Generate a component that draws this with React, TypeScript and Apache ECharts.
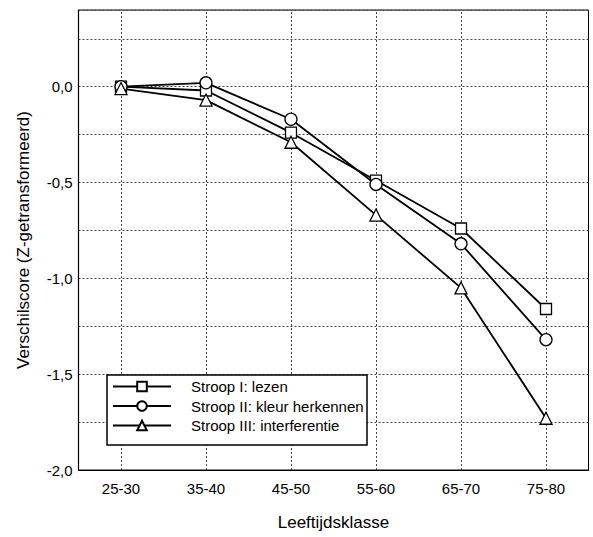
import React, { useEffect, useRef } from "react";
import * as echarts from "echarts";

const categories = ["25-30", "35-40", "45-50", "55-60", "65-70", "75-80"];
const stroopI = [0.0, -0.02, -0.24, -0.49, -0.74, -1.16];
const stroopII = [0.0, 0.02, -0.17, -0.51, -0.82, -1.32];
const stroopIII = [-0.01, -0.07, -0.29, -0.67, -1.05, -1.73];
const seriesNames = ["Stroop I: lezen", "Stroop II: kleur herkennen", "Stroop III: interferentie"];
const yName = "Verschilscore (Z-getransformeerd)";
const xName = "Leeftijdsklasse";

const FONT = "'Liberation Sans', Arial, sans-serif";

export default function App() {
  const ref = useRef<HTMLDivElement>(null);
  useEffect(() => {
    document.body.style.margin = "0";
    const chart = echarts.init(ref.current!, null, { renderer: "svg" });
    const mk = (name: string, data: number[], symbol: string, size: number) => ({
      name,
      type: "line",
      data,
      symbol,
      symbolSize: size,
      showAllSymbol: true,
      z: 5,
      lineStyle: { color: "#000", width: 1.8 },
      itemStyle: { color: "#fff", borderColor: "#000", borderWidth: 1.3 },
    });
    chart.setOption({
      animation: false,
      backgroundColor: "#fff",
      grid: {
        left: 78.5,
        right: 4.5,
        top: 10,
        bottom: 67,
        show: true,
        borderColor: "#000",
        borderWidth: 1,
      },
      xAxis: {
        type: "category",
        data: categories,
        boundaryGap: true,
        name: xName,
        nameLocation: "middle",
        nameGap: 44,
        nameTextStyle: { fontFamily: FONT, fontSize: 17, color: "#000" },
        axisLine: { onZero: false, lineStyle: { color: "#000", width: 1.2 } },
        axisTick: {
          show: true,
          alignWithLabel: true,
          inside: true,
          length: 460,
          lineStyle: { color: "#444", type: [2, 2], width: 1 },
        },
        axisLabel: { fontFamily: FONT, fontSize: 15, color: "#000", margin: 11 },
        splitLine: { show: false },
      },
      yAxis: {
        type: "value",
        min: -2,
        max: 0.4,
        interval: 0.25,
        name: yName,
        nameLocation: "middle",
        nameGap: 47,
        nameTextStyle: { fontFamily: FONT, fontSize: 17, color: "#000" },
        axisLine: { show: true, onZero: false, lineStyle: { color: "#000", width: 1.2 } },
        axisTick: { show: false },
        axisLabel: {
          fontFamily: FONT,
          fontSize: 15,
          color: "#000",
          margin: 6,
          showMaxLabel: false,
          formatter: (v: number) => {
            const d = v * 2;
            if (Math.abs(d - Math.round(d)) > 1e-6 || v > 0.01) return "";
            return v.toFixed(1).replace(".", ",");
          },
        },
        splitLine: { show: true, lineStyle: { color: "#444", type: [2, 2], width: 1 } },
      },
      legend: {
        orient: "vertical",
        left: 112,
        top: 379,
        padding: 0,
        itemWidth: 58,
        itemHeight: 12,
        itemGap: 4.5,
        z: 20,
        data: seriesNames,
        textStyle: { fontFamily: FONT, fontSize: 15, color: "#000", padding: [0, 0, 0, 15], lineHeight: 15 },
      },
      graphic: [
        {
          type: "rect",
          z: 10,
          shape: { x: 107, y: 375, width: 260, height: 70 },
          style: { fill: "#fff", stroke: "#000", lineWidth: 1.5 },
        },
      ],
      series: [
        mk(seriesNames[0], stroopI, "rect", 11),
        mk(seriesNames[1], stroopII, "circle", 12),
        mk(seriesNames[2], stroopIII, "triangle", 12),
      ],
    });
    return () => chart.dispose();
  }, []);
  return <div ref={ref} style={{ width: 593, height: 537 }} />;
}
